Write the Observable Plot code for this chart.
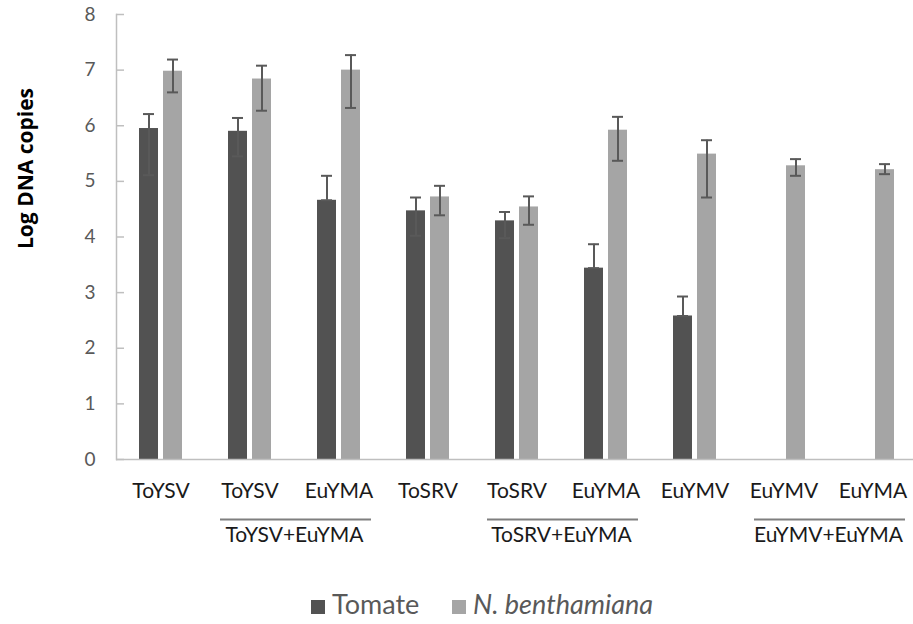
<!DOCTYPE html>
<html>
<head>
<meta charset="utf-8">
<script src="https://cdn.jsdelivr.net/npm/d3@7"></script>
<script src="https://cdn.jsdelivr.net/npm/@observablehq/plot@0.6"></script>
<style>
  html, body { margin: 0; padding: 0; background: #fff; }
  #chart { width: 913px; height: 570px; }
  #legend { position: relative; height: 54px; font-family: Lato, sans-serif; font-size: 27px; color: #595959; }
  .item { position: absolute; top: 17px; white-space: nowrap; line-height: normal; }
  .sw { display: inline-block; width: 14px; height: 14px; margin-right: 7px; vertical-align: baseline; }
</style>
</head>
<body>
<div id="chart"></div>
<div id="legend"></div>
<script>
const categories = ["ToYSV", "ToYSV", "EuYMA", "ToSRV", "ToSRV", "EuYMA", "EuYMV", "EuYMV", "EuYMA"];
const seriesNames = ["Tomate", "N. benthamiana"];
const seriesColors = ["#525252", "#a5a5a5"];

const tomate   = [5.95, 5.90, 4.66, 4.47, 4.29, 3.44, 2.58, null, null];
const tomateLo = [5.11, 5.45, 4.66, 4.02, 3.98, 3.44, 2.58, null, null];
const tomateHi = [6.21, 6.14, 5.10, 4.71, 4.45, 3.87, 2.93, null, null];

const benth   = [6.98, 6.84, 7.00, 4.72, 4.54, 5.92, 5.49, 5.28, 5.21];
const benthLo = [6.60, 6.27, 6.32, 4.39, 4.22, 5.37, 4.71, 5.10, 5.13];
const benthHi = [7.19, 7.08, 7.27, 4.92, 4.73, 6.16, 5.74, 5.40, 5.31];

const groupSpans = [
  {name: "ToYSV+EuYMA", from: 1, to: 2},
  {name: "ToSRV+EuYMA", from: 4, to: 5},
  {name: "EuYMV+EuYMA", from: 7, to: 8}
];
const yTicks = [0, 1, 2, 3, 4, 5, 6, 7, 8];
const yTitle = "Log DNA copies";

const rows = categories.flatMap((c, i) => [
  {group: i, series: seriesNames[0], value: tomate[i], lo: tomateLo[i], hi: tomateHi[i]},
  {group: i, series: seriesNames[1], value: benth[i], lo: benthLo[i], hi: benthHi[i]}
]).filter(d => d.value != null);

const font = "Lato, sans-serif";
const axisGray = "#bfbfbf";
const errColor = "#595959";

const chart = Plot.plot({
  width: 913,
  height: 570,
  marginTop: 14,
  marginBottom: 111,
  marginLeft: 113,
  marginRight: -7,
  style: {fontFamily: font, background: "white", overflow: "hidden"},
  fx: {domain: d3.range(categories.length), padding: 0, axis: null, label: null},
  x: {domain: seriesNames, paddingInner: 0.2, paddingOuter: 0.894, axis: null},
  y: {domain: [0, 8], axis: null},
  color: {domain: seriesNames, range: seriesColors},
  marks: [
    Plot.barY(rows, {fx: "group", x: "series", y: "value", fill: "series"}),
    Plot.ruleX(rows, {fx: "group", x: "series", y1: "lo", y2: "hi", stroke: errColor, strokeWidth: 2}),
    Plot.tickY(rows, {fx: "group", x: "series", y: "hi", stroke: errColor, strokeWidth: 2, insetLeft: 4, insetRight: 4}),
    Plot.tickY(rows, {fx: "group", x: "series", y: "lo", stroke: errColor, strokeWidth: 2, insetLeft: 4, insetRight: 4}),
    Plot.ruleY([0], {stroke: axisGray, strokeWidth: 1.5}),
    Plot.frame({anchor: "left", facetAnchor: "left", stroke: axisGray, strokeWidth: 1.5}),
    Plot.axisY({ticks: yTicks, tickSize: 0, tickPadding: 21, fontSize: 19, fill: "#595959", tickFormat: d => String(d), label: null}),
    Plot.axisY({ticks: yTicks, tickSize: 8, dx: 8, fill: "none", stroke: axisGray, strokeWidth: 1.5, label: null}),
    Plot.axisFx({anchor: "bottom", tickSize: 0, tickPadding: 24, fontSize: 21, fill: "#1a1a1a", tickFormat: i => categories[i], label: null}),
    Plot.ruleY(groupSpans, {fx: "from", y: () => 0, dy: 60, insetLeft: 15, stroke: "#7f7f7f", strokeWidth: 2}),
    Plot.ruleY(groupSpans, {fx: "to", y: () => 0, dy: 60, insetRight: 12, stroke: "#7f7f7f", strokeWidth: 2}),
    Plot.text(groupSpans, {fx: "from", text: "name", frameAnchor: "bottom-right", textAnchor: "middle", lineAnchor: "top", dy: 68, fontSize: 21, fill: "#1a1a1a"}),
    Plot.text([yTitle], {fx: () => 0, text: d => d, frameAnchor: "top-left", textAnchor: "middle", lineAnchor: "middle", dx: -90, dy: 154, rotate: -90, fontSize: 21, fontWeight: "bold", fontFamily: "'Open Sans', sans-serif", fill: "#000"})
  ]
});
document.getElementById("chart").appendChild(chart);

// legend
const legend = document.getElementById("legend");
const lefts = [311, 452];
seriesNames.forEach((name, i) => {
  const item = document.createElement("div");
  item.className = "item";
  item.style.left = lefts[i] + "px";
  const sw = document.createElement("span");
  sw.className = "sw";
  sw.style.background = seriesColors[i];
  const label = document.createElement("span");
  label.textContent = name;
  if (i === 1) label.style.fontStyle = "italic";
  item.appendChild(sw);
  item.appendChild(label);
  legend.appendChild(item);
});
</script>
</body>
</html>
